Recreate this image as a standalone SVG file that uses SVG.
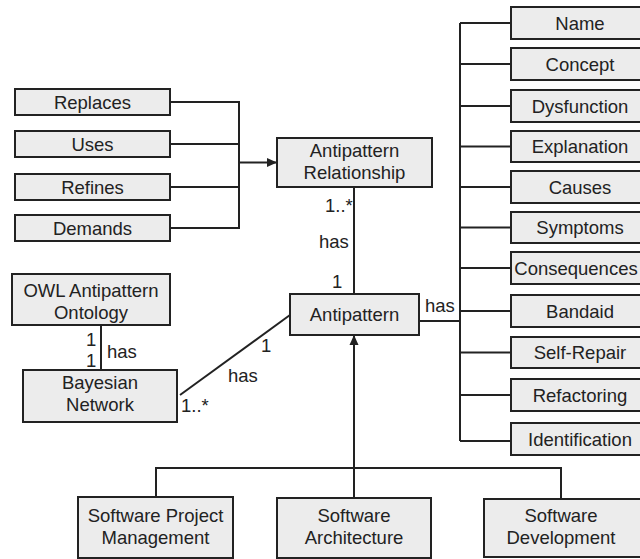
<svg xmlns="http://www.w3.org/2000/svg" width="640" height="559" viewBox="0 0 640 559">
  <style>
    .box { fill: #ececec; stroke: #222; stroke-width: 2; }
    .lbl { font-family: "Liberation Sans", Arial, sans-serif; font-size: 18.5px; fill: #222; text-anchor: middle; }
    .tag { font-family: "Liberation Sans", Arial, sans-serif; font-size: 18.5px; fill: #222; }
    .ln { fill: none; stroke: #222; stroke-width: 2; }
  </style>
  <defs>
    <marker id="arrow" markerUnits="userSpaceOnUse" markerWidth="10" markerHeight="10" viewBox="0 0 10 10" refX="10" refY="5" orient="auto">
      <path d="M0,0.5 L10,5 L0,9.5 Z" fill="#222"/>
    </marker>
  </defs>

  <rect width="640" height="559" fill="#fff"/>

  <!-- connectors -->
  <g id="connectors">
    <!-- relationship kinds merge into one arrow -->
    <path class="ln" d="M170,102 H239 M170,144 H239 M170,187 H239 M170,228 H239 M239,101 V229"/>
    <path class="ln" d="M239,162.5 H277" marker-end="url(#arrow)"/>
    <!-- relationship to antipattern -->
    <path class="ln" d="M354,187 V294" stroke-width="1.6"/>
    <!-- ontology to network -->
    <path class="ln" d="M101,325 V370"/>
    <!-- network to antipattern -->
    <path class="ln" d="M180,395 L290,315" stroke-width="1.6"/>
    <!-- antipattern attributes -->
    <path class="ln" d="M419,321 H460"/>
    <path class="ln" d="M460,23 V441 M460,23 H511 M460,64 H511 M460,106 H511 M460,146.5 H511 M460,187 H511 M460,227.5 H511 M460,268 H511 M460,311 H511 M460,352.5 H511 M460,395 H511 M460,441 H511"/>
    <!-- domains -->
    <path class="ln" d="M156,497 V468 H561 V499"/>
    <path class="ln" d="M354,498 V335" stroke-width="1.6" marker-end="url(#arrow)"/>
  </g>

  <!-- multiplicities and role labels -->
  <g id="labels">
    <text class="tag" x="325" y="212">1..*</text>
    <text class="tag" x="319" y="248">has</text>
    <text class="tag" x="332" y="288">1</text>
    <text class="tag" x="425" y="312">has</text>
    <text class="tag" x="86" y="346">1</text>
    <text class="tag" x="86" y="367">1</text>
    <text class="tag" x="107" y="358">has</text>
    <text class="tag" x="261" y="352">1</text>
    <text class="tag" x="228" y="382">has</text>
    <text class="tag" x="181" y="412">1..*</text>
  </g>

  <!-- left: relationship kinds -->
  <g id="replaces"><rect class="box" x="15" y="89" width="155" height="26"/><text class="lbl" x="92.5" y="108.5">Replaces</text></g>
  <g id="uses"><rect class="box" x="15" y="131" width="155" height="26"/><text class="lbl" x="92.5" y="150.5">Uses</text></g>
  <g id="refines"><rect class="box" x="15" y="174" width="155" height="26"/><text class="lbl" x="92.5" y="193.5">Refines</text></g>
  <g id="demands"><rect class="box" x="15" y="215" width="155" height="26"/><text class="lbl" x="92.5" y="234.5">Demands</text></g>

  <g id="antipattern-relationship"><rect class="box" x="277" y="138" width="155" height="49"/><text class="lbl" x="354.5" y="157">Antipattern</text><text class="lbl" x="354.5" y="179">Relationship</text></g>

  <g id="antipattern"><rect class="box" x="290" y="294" width="129" height="41"/><text class="lbl" x="354.5" y="321">Antipattern</text></g>

  <g id="owl-ontology"><rect class="box" x="12" y="274" width="158" height="51"/><text class="lbl" x="91" y="297">OWL Antipattern</text><text class="lbl" x="91" y="319">Ontology</text></g>

  <g id="bayesian-network"><rect class="box" x="23" y="370" width="154" height="52"/><text class="lbl" x="100" y="389">Bayesian</text><text class="lbl" x="100" y="411">Network</text></g>

  <!-- right: antipattern attributes -->
  <g id="name"><rect class="box" x="511" y="7" width="140" height="32"/><text class="lbl" x="580" y="29.5">Name</text></g>
  <g id="concept"><rect class="box" x="511" y="48" width="140" height="32"/><text class="lbl" x="580" y="70.5">Concept</text></g>
  <g id="dysfunction"><rect class="box" x="511" y="90" width="140" height="32"/><text class="lbl" x="580" y="112.5">Dysfunction</text></g>
  <g id="explanation"><rect class="box" x="511" y="131" width="140" height="31"/><text class="lbl" x="580" y="153">Explanation</text></g>
  <g id="causes"><rect class="box" x="511" y="171" width="140" height="32"/><text class="lbl" x="580" y="193.5">Causes</text></g>
  <g id="symptoms"><rect class="box" x="511" y="212" width="140" height="31"/><text class="lbl" x="580" y="234">Symptoms</text></g>
  <g id="consequences"><rect class="box" x="511" y="252" width="140" height="32"/><text class="lbl" x="576" y="274.5">Consequences</text></g>
  <g id="bandaid"><rect class="box" x="511" y="295" width="140" height="32"/><text class="lbl" x="580" y="317.5">Bandaid</text></g>
  <g id="self-repair"><rect class="box" x="511" y="337" width="140" height="31"/><text class="lbl" x="580" y="359">Self-Repair</text></g>
  <g id="refactoring"><rect class="box" x="511" y="379" width="140" height="32"/><text class="lbl" x="580" y="401.5">Refactoring</text></g>
  <g id="identification"><rect class="box" x="511" y="423" width="140" height="32"/><text class="lbl" x="580" y="445.5">Identification</text></g>

  <!-- bottom: domains -->
  <g id="software-project-management"><rect class="box" x="78" y="497" width="155" height="61"/><text class="lbl" x="155.5" y="522">Software Project</text><text class="lbl" x="155.5" y="544">Management</text></g>
  <g id="software-architecture"><rect class="box" x="277" y="498" width="154" height="60"/><text class="lbl" x="354" y="522">Software</text><text class="lbl" x="354" y="544">Architecture</text></g>
  <g id="software-development"><rect class="box" x="484" y="499" width="160" height="58"/><text class="lbl" x="561" y="522">Software</text><text class="lbl" x="561" y="544">Development</text></g>
</svg>
